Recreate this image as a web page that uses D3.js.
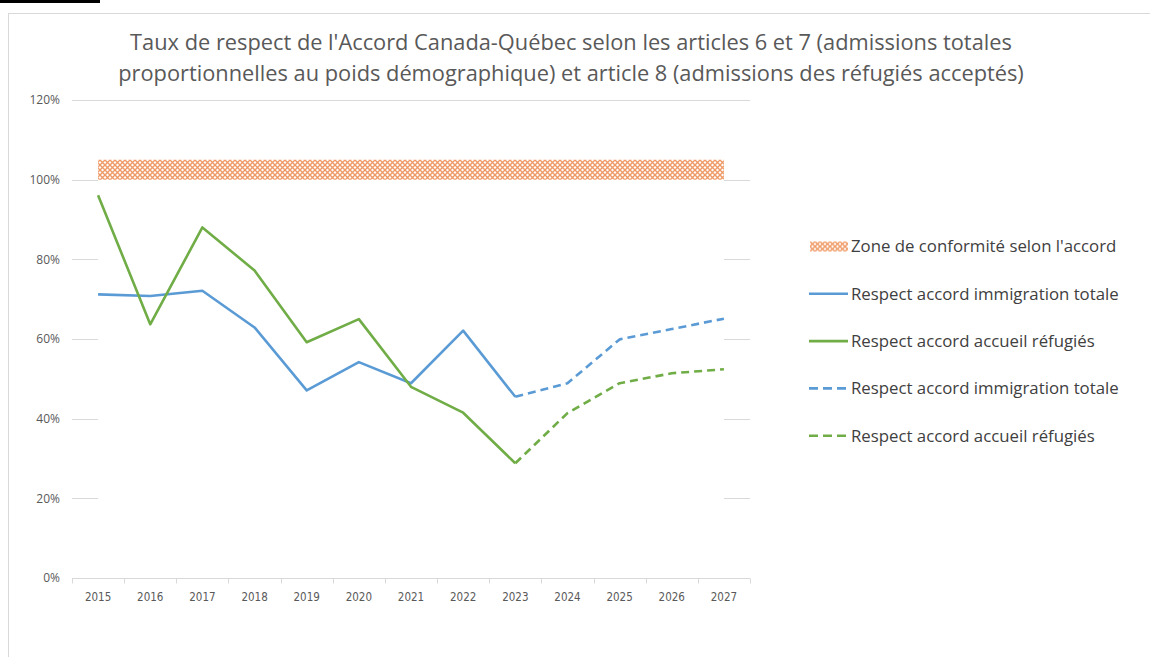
<!DOCTYPE html>
<html>
<head>
<meta charset="utf-8">
<script src="https://cdn.jsdelivr.net/npm/d3@7"></script>
<style>
  body { margin: 0; background: #fff; }
  svg { display: block; }
</style>
</head>
<body>
<div id="chart"></div>
<script>
// ---- data ----
const years = ['2015', '2016', '2017', '2018', '2019', '2020', '2021', '2022', '2023', '2024', '2025', '2026', '2027'];
// valeurs observées (%)
const immigrationTotale = [71.2, 70.8, 72.1, 62.9, 47.1, 54.2, 48.9, 62.1, 45.5, null, null, null, null];
const accueilRefugies = [96.1, 63.7, 88.0, 77.2, 59.2, 65.0, 48.0, 41.5, 28.8, null, null, null, null];
// projections (%)
const immigrationProj = [null, null, null, null, null, null, null, null, 45.5, 48.9, 59.9, 62.5, 65.1];
const refugiesProj = [null, null, null, null, null, null, null, null, 28.8, 41.4, 48.9, 51.4, 52.4];
// zone de conformité
const zoneBas = [100, 100, 100, 100, 100, 100, 100, 100, 100, 100, 100, 100, 100];
const zoneHaut = [105, 105, 105, 105, 105, 105, 105, 105, 105, 105, 105, 105, 105];
const yTicks = [0, 20, 40, 60, 80, 100, 120];

const titleLines = [
  "Taux de respect de l'Accord Canada-Québec selon les articles 6 et 7 (admissions totales",
  "proportionnelles au poids démographique) et article 8 (admissions des réfugiés acceptés)"
];
const legendItems = [
  { label: "Zone de conformité selon l'accord", type: 'zone' },
  { label: 'Respect accord immigration totale', color: '#5b9bd5', dash: null },
  { label: 'Respect accord accueil réfugiés', color: '#70ad47', dash: null },
  { label: 'Respect accord immigration totale', color: '#5b9bd5', dash: '8,5' },
  { label: 'Respect accord accueil réfugiés', color: '#70ad47', dash: '8,5' }
];

const W = 1150, H = 657;
const plot = { left: 72, right: 750, top: 100, bottom: 578 };

const svg = d3.select('#chart').append('svg')
  .attr('width', W)
  .attr('height', H);

// hatch pattern
const defs = svg.append('defs');
const pat = defs.append('pattern')
  .attr('id', 'hatch')
  .attr('patternUnits', 'userSpaceOnUse')
  .attr('width', 5)
  .attr('height', 5);
pat.append('rect').attr('width', 5).attr('height', 5).attr('fill', '#fff');
pat.append('path')
  .attr('d', 'M0,0 L5,5 M5,0 L0,5')
  .attr('stroke', '#ef9a66')
  .attr('stroke-width', 1.4);

// top black mark + frame
svg.append('rect').attr('x', 0).attr('y', 0).attr('width', 100).attr('height', 3).attr('fill', '#000');
svg.append('rect')
  .attr('x', 8.5).attr('y', 13.5)
  .attr('width', W + 20).attr('height', H + 20)
  .attr('fill', '#fff')
  .attr('stroke', '#d9d9d9');

// scales
const x = d3.scaleBand()
  .domain(years)
  .range([plot.left, plot.right]);
const cx = d => x(d) + x.bandwidth() / 2;

const y = d3.scaleLinear()
  .domain([0, 120])
  .range([plot.bottom, plot.top]);

// gridlines
svg.append('g')
  .selectAll('line')
  .data(yTicks.filter(d => d > 0))
  .enter().append('line')
  .attr('x1', plot.left).attr('x2', plot.right)
  .attr('y1', d => Math.round(y(d)) + 0.5)
  .attr('y2', d => Math.round(y(d)) + 0.5)
  .attr('stroke', '#d9d9d9')
  .attr('stroke-width', 1);

// stacked zone: white base (hides gridlines) + hatched band
const baseArea = d3.area()
  .x((d, i) => cx(years[i]))
  .y0(y(0))
  .y1(d => y(d));
svg.append('path')
  .datum(zoneBas)
  .attr('fill', '#fff')
  .attr('d', baseArea);

const zoneArea = d3.area()
  .x((d, i) => cx(years[i]))
  .y0((d, i) => y(zoneBas[i]))
  .y1(d => y(d));
svg.append('path')
  .datum(zoneHaut)
  .attr('fill', 'url(#hatch)')
  .attr('d', zoneArea);

// x axis
const xAxis = d3.axisBottom(x).tickSize(0).tickPadding(14);
const gx = svg.append('g')
  .attr('transform', `translate(0,${Math.round(plot.bottom) + 0.5})`)
  .call(xAxis);
gx.select('.domain').attr('stroke', '#d9d9d9').attr('d', `M${plot.left},0H${plot.right}`);
gx.selectAll('text')
  .attr('fill', '#595959')
  .attr('font-family', '"Liberation Sans Narrow", "DejaVu Sans Condensed", sans-serif')
  .attr('font-size', 11.5);
// boundary ticks between categories
gx.append('g').selectAll('line')
  .data(d3.range(years.length + 1))
  .enter().append('line')
  .attr('x1', i => Math.round(plot.left + i * x.step()) + 0.5)
  .attr('x2', i => Math.round(plot.left + i * x.step()) + 0.5)
  .attr('y1', 0).attr('y2', 5)
  .attr('stroke', '#d9d9d9');

// y axis labels
svg.append('g')
  .selectAll('text')
  .data(yTicks)
  .enter().append('text')
  .attr('x', 60)
  .attr('y', d => y(d))
  .attr('dy', '0.35em')
  .attr('text-anchor', 'end')
  .attr('fill', '#595959')
  .attr('font-family', '"Open Sans", sans-serif')
  .attr('font-size', 12)
  .text(d => d + '%');

// lines
const line = d3.line()
  .defined(d => d !== null)
  .x((d, i) => cx(years[i]))
  .y(d => y(d));

const series = [
  { data: immigrationTotale, color: '#5b9bd5', dash: null },
  { data: accueilRefugies, color: '#70ad47', dash: null },
  { data: immigrationProj, color: '#5b9bd5', dash: '8,5' },
  { data: refugiesProj, color: '#70ad47', dash: '8,5' }
];
series.forEach(s => {
  svg.append('path')
    .datum(s.data)
    .attr('fill', 'none')
    .attr('stroke', s.color)
    .attr('stroke-width', 2.6)
    .attr('stroke-linejoin', 'round')
    .attr('stroke-dasharray', s.dash)
    .attr('d', line);
});

// title
svg.append('g')
  .selectAll('text')
  .data(titleLines)
  .enter().append('text')
  .attr('x', 571)
  .attr('y', (d, i) => 50 + i * 31)
  .attr('text-anchor', 'middle')
  .attr('fill', '#595959')
  .attr('font-family', '"Open Sans", sans-serif')
  .attr('font-size', 21.8)
  .text(d => d);

// legend
const legend = svg.append('g');
const rowY = i => 246.5 + i * 47.3;
legendItems.forEach((it, i) => {
  const g = legend.append('g').attr('transform', `translate(0,${rowY(i)})`);
  if (it.type === 'zone') {
    g.append('rect')
      .attr('x', 810).attr('y', -5)
      .attr('width', 38).attr('height', 10)
      .attr('fill', 'url(#hatch)');
  } else {
    g.append('line')
      .attr('x1', 809).attr('x2', 848)
      .attr('y1', 0).attr('y2', 0)
      .attr('stroke', it.color)
      .attr('stroke-width', 2.6)
      .attr('stroke-dasharray', it.dash ? '9,5' : null);
  }
  g.append('text')
    .attr('x', 851)
    .attr('y', 0)
    .attr('dy', '0.35em')
    .attr('fill', '#404040')
    .attr('font-family', '"Open Sans", sans-serif')
    .attr('font-size', 16.8)
    .text(it.label);
});
</script>
</body>
</html>
